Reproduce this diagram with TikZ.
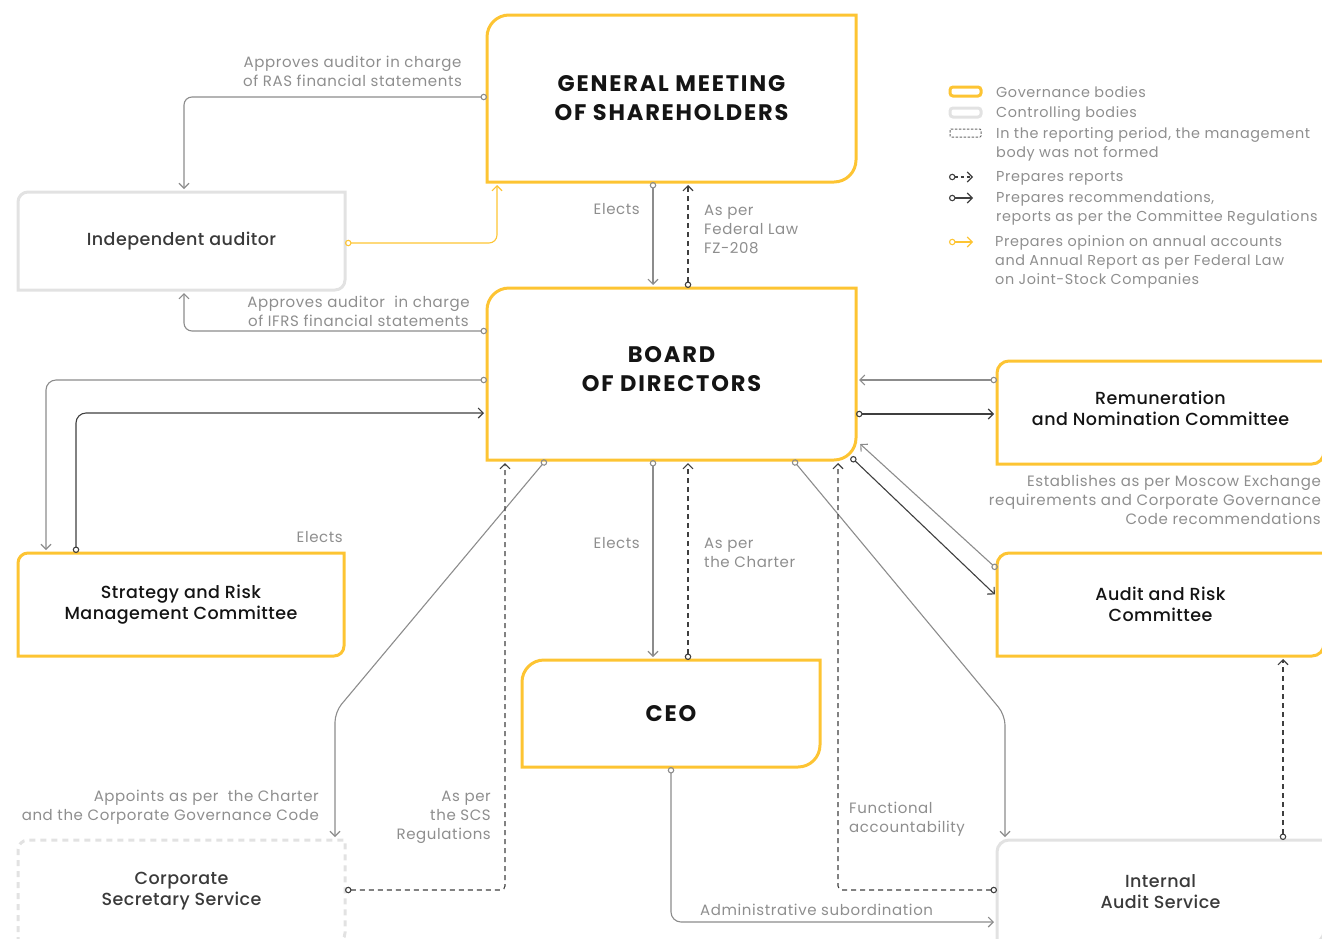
\documentclass[tikz,border=0pt]{standalone}
\usepackage{fontspec}
\setmainfont{Poppins}
\newfontfamily\notefont{Poppins}[LetterSpace=4]
\newfontfamily\medfont{Poppins Medium}[LetterSpace=2.5]
\newfontfamily\titlefont{Poppins}[LetterSpace=8]
\usetikzlibrary{arrows.meta}

\definecolor{gold}{HTML}{FDC433}
\definecolor{frame}{HTML}{E2E2E2}
\definecolor{linegrey}{HTML}{8C8C8C}
\definecolor{linedark}{HTML}{3F3F3F}
\definecolor{notegrey}{HTML}{8E8E8E}
\definecolor{ink}{HTML}{141414}
\definecolor{inksoft}{HTML}{3A3A3A}

% frame with rounded top-left and bottom-right corners only
\def\boxframe[#1](#2)(#3){\draw[#1] (#2.south west) [rounded corners=#3] -- (#2.north west) [sharp corners] -- (#2.north east) [rounded corners=#3] -- (#2.south east) [sharp corners] -- cycle;}

\tikzset{
	body/.style={inner sep=0pt, outer sep=0pt, align=center, text=ink, font=\medfont\fontsize{17.5}{21}\selectfont},
	title/.style={body, font=\titlefont\bfseries\fontsize{22.5}{29}\selectfont},
	note/.style={inner sep=0pt, text=notegrey, font=\notefont\fontsize{15}{19}\selectfont},
	key/.style={note, anchor=west, align=left, font=\notefont\fontsize{14.4}{19}\selectfont},
	gov/.style={draw=gold, line width=3pt},
	ctrl/.style={draw=frame, line width=3pt},
	link/.style={line width=1.1pt, shorten >=3pt, {Circle[open,length=6.5pt]}-{Straight Barb[length=5pt,width=10pt]}},
	elects/.style={link, draw=linegrey},
	advises/.style={link, draw=linedark},
	reports/.style={link, draw=linedark, dash pattern=on 5pt off 4pt},
	opinion/.style={link, draw=gold},
}

\begin{document}
\begin{tikzpicture}[x=1pt,y=1pt]
			\useasboundingbox (0,0) rectangle (1322,-938);
			\clip (0,0) rectangle (1322,-938);
			
			%%%%% BODIES %%%%%
			
			\node[title, minimum width=369pt, minimum height=167pt] (gms) at (671.5,-98.5) {GENERAL MEETING\\OF SHAREHOLDERS};
			\node[title, minimum width=369pt, minimum height=172pt, text depth=11pt] (board) at (671.5,-374) {BOARD\\OF DIRECTORS};
			\node[title, minimum width=298pt, minimum height=107pt] (ceo) at (671,-713.5) {CEO};
			
			\node[body, text=inksoft, minimum width=327pt, minimum height=98pt] (auditor) at (181.5,-241) {Independent auditor};
			\node[body, minimum width=326pt, minimum height=103pt] (strategy) at (181,-604.5) {Strategy and Risk\\Management Committee};
			\node[body, text=inksoft, minimum width=327pt, minimum height=103pt] (secretary) at (181.5,-891.5) {Corporate\\Secretary Service};
			
			\node[body, minimum width=327pt, minimum height=103pt, text depth=8pt] (remun) at (1160.5,-412.5) {Remuneration\\and Nomination Committee};
			\node[body, minimum width=327pt, minimum height=103pt] (auditrisk) at (1160.5,-604.5) {Audit and Risk\\Committee};
			\node[body, text=inksoft, minimum width=327pt, minimum height=103pt] (internal) at (1160.5,-891.5) {Internal\\Audit Service};
			
			\boxframe[gov](gms)(22pt)
			\boxframe[gov](board)(22pt)
			\boxframe[gov](ceo)(22pt)
			\boxframe[ctrl](auditor)(10pt)
			\boxframe[gov](strategy)(10pt)
			\boxframe[ctrl, dash pattern=on 6pt off 5pt](secretary)(10pt)
			\boxframe[gov](remun)(12pt)
			\boxframe[gov](auditrisk)(12pt)
			\boxframe[ctrl](internal)(12pt)
			
			%%%%% LINKS %%%%%
			
			\draw[elects, rounded corners=8pt] ([yshift=1.5pt]gms.west) -| ([xshift=2.5pt]auditor.north);
			\draw[opinion, rounded corners=8pt] ([yshift=-2pt]auditor.east) -| ([xshift=10pt]gms.south west);
			\draw[elects, rounded corners=8pt] ([yshift=43pt]board.west) -| ([xshift=2.5pt]auditor.south);
			
			\draw[elects] ([xshift=-18.5pt]gms.south) -- ([xshift=-18.5pt]board.north);
			\draw[reports] ([xshift=16.5pt]board.north) -- ([xshift=16.5pt]gms.south);
			
			\draw[elects, rounded corners=10pt] ([yshift=-6pt]board.west) -| ([xshift=-135pt]strategy.north);
			\draw[advises, rounded corners=10pt] ([xshift=-105pt]strategy.north) |- ([yshift=-39pt]board.west);
			
			\draw[elects] ([yshift=32.5pt]remun.west) -- ([yshift=-6pt]board.east);
			\draw[advises] ([yshift=-40pt]board.east) -- ([yshift=-1.5pt]remun.west);
			\draw[elects] ([yshift=35.5pt]auditrisk.west) -- ([xshift=2pt,yshift=18pt]board.south east);
			\draw[advises] ([xshift=-5pt,yshift=3pt]board.south east) -- ([yshift=8pt]auditrisk.west);
			
			\draw[elects] ([xshift=-18.5pt]board.south) -- ([xshift=-18pt]ceo.north);
			\draw[reports] ([xshift=17pt]ceo.north) -- ([xshift=16.5pt]board.south);
			
			\coordinate (secbend) at (335,-712);
			\coordinate (intbend) at (1005,-715);
			\draw[elects, rounded corners=10pt] ([xshift=-125.5pt]board.south) -- (secbend) -- (secbend |- secretary.north);
			\draw[reports, rounded corners=4pt] ([yshift=1.5pt]secretary.east) -| ([xshift=-166.5pt]board.south);
			\draw[elects, rounded corners=10pt] ([xshift=121.5pt]board.south) -- (intbend) -- (intbend |- internal.north);
			\draw[reports, rounded corners=4pt] ([yshift=1.5pt]internal.west) -| ([xshift=166.5pt]board.south);
			\draw[elects, rounded corners=10pt] (ceo.south) |- ([yshift=-30.5pt]internal.west);
			\draw[reports] ([xshift=122.5pt]internal.north) -- ([xshift=122.5pt]auditrisk.south);
			
			%%%%% NOTES %%%%%
			
			\node[note, align=center] (rasnote) at (352.5,-71.5) {Approves auditor in charge\\of RAS financial statements};
			\node[note, align=center] (ifrsnote) at (358.5,-311.5) {Approves auditor\ \ in charge\\of IFRS financial statements};
			\node[note, anchor=east] (gmsnote) at (640,-209) {Elects};
			\node[note, anchor=west, align=left] (fznote) at (704,-229) {As per\\Federal Law\\FZ-208};
			\node[note, anchor=east] (srmnote) at (343,-537) {Elects};
			\node[note, anchor=east, align=right] (moexnote) at (1321,-500) {Establishes as per Moscow Exchange\\requirements and Corporate Governance\\Code recommendations};
			\node[note, anchor=east] (ceonote) at (640,-543) {Elects};
			\node[note, anchor=west, align=left] (charternote) at (704,-552.5) {As per\\the Charter};
			\node[note, anchor=east, align=right] (appointnote) at (319,-807.5) {Appoints as per\ \ the Charter\\and the Corporate Governance Code};
			\node[note, anchor=east, align=right] (scsnote) at (491,-817.5) {As per\\the SCS\\Regulations};
			\node[note, anchor=west, align=left] (funcnote) at (849,-819.5) {Functional\\accountability};
			\node[note, anchor=west] (adminnote) at (700,-910) {Administrative subordination};
			
			%%%%% LEGEND %%%%%
			
			\draw[gov, rounded corners=3pt] (950,-87) rectangle (981,-96);
			\node[key] (lgov) at (996,-92) {Governance bodies};
			\draw[ctrl, rounded corners=3pt] (950,-108) rectangle (981,-117);
			\node[key] (lctrl) at (996,-114) {Controlling bodies};
			\draw[linedark!80, line width=1pt, dash pattern=on 2.5pt off 1.5pt, rounded corners=1pt] (950,-129) rectangle (981,-137);
			\node[key] (lnone) at (996,-144) {In the reporting period, the management\\body was not formed};
			\draw[reports, dash pattern=on 3pt off 3pt, shorten >=0pt] (949,-177) -- (973,-177);
			\node[key] (lrep) at (996,-178) {Prepares reports};
			\draw[advises, shorten >=0pt] (949,-198) -- (973,-198);
			\node[key] (lrec) at (996,-208.5) {Prepares recommendations,\\reports as per the Committee Regulations};
			\draw[opinion, shorten >=0pt] (949,-242) -- (973,-242);
			\node[key] (lop) at (995,-262) {Prepares opinion on annual accounts\\and Annual Report as per Federal Law\\on Joint-Stock Companies};
\end{tikzpicture}
\end{document}
